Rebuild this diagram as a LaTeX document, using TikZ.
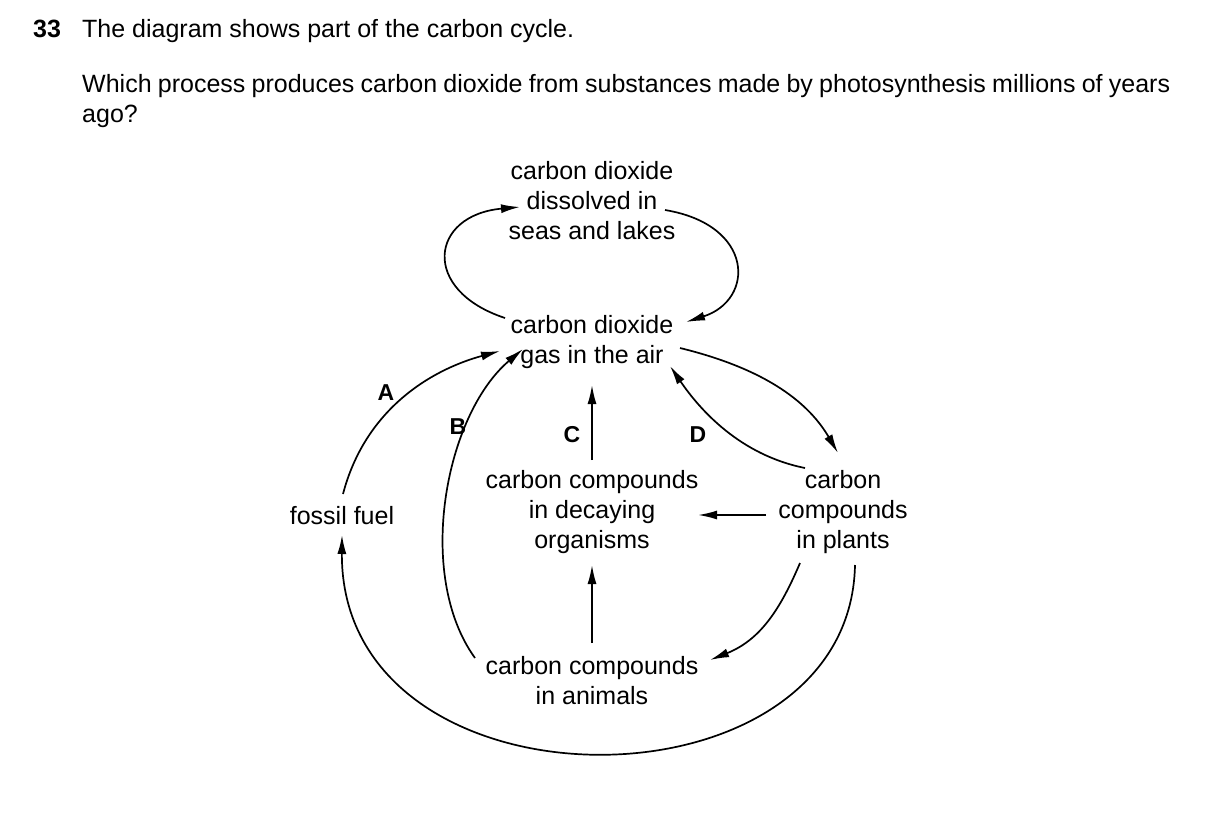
\documentclass[tikz,border=0pt]{standalone}
\usepackage{fontspec}
\setmainfont{Liberation Sans}
\usetikzlibrary{arrows.meta}
\begin{document}
\begin{tikzpicture}[x=1pt,y=-1pt,
  lbl/.style={align=center,font=\fontsize{25}{30}\selectfont,inner sep=0pt},
  ln/.style={line width=1.7pt,-{Latex[length=19pt,width=9pt]}}]
\useasboundingbox (0,0) rectangle (1209,827);
\node[lbl,anchor=base west] (q1) at (33,37) {\textbf{33}};
\node[lbl,anchor=base west] (q2) at (82,37) {The diagram shows part of the carbon cycle.};
\node[lbl,anchor=north west,align=justify,text width=1088pt] (q3) at (82,74) {Which process produces carbon dioxide from substances made by photosynthesis millions of years ago?};
\node[lbl] (sea) at (592,201) {carbon dioxide\\dissolved in\\seas and lakes};
\node[lbl] (air) at (592,342) {carbon dioxide\\gas in the air};
\node[lbl] (fos) at (342,516) {fossil fuel};
\node[lbl] (dec) at (592,512) {carbon compounds\\in decaying\\organisms};
\node[lbl] (pla) at (843,512) {carbon\\compounds\\in plants};
\node[lbl] (ani) at (592,681) {carbon compounds\\in animals};
\node[lbl,font=\fontsize{23}{30}\selectfont\bfseries] (A) at (386,393) {A};
\node[lbl,font=\fontsize{23}{30}\selectfont\bfseries] (B) at (458,427) {B};
\node[lbl,font=\fontsize{23}{30}\selectfont\bfseries] (C) at (572,435) {C};
\node[lbl,font=\fontsize{23}{30}\selectfont\bfseries] (D) at (698,435) {D};
\coordinate (s1) at (505,318); \coordinate (e1) at (520,207);
\coordinate (s2) at (665,210); \coordinate (e2) at (686,322);
\coordinate (s3) at (343,494); \coordinate (e3) at (500,351);
\coordinate (s4) at (855,565); \coordinate (e4) at (342,535);
\coordinate (s5) at (475,658); \coordinate (e5) at (523,349);
\coordinate (s6) at (592,460); \coordinate (e6) at (592,385);
\coordinate (s7) at (805,468); \coordinate (e7) at (670,366);
\coordinate (s8) at (680,348); \coordinate (e8) at (838,453);
\coordinate (s9) at (766,515); \coordinate (e9) at (698,515);
\coordinate (s10) at (800,563); \coordinate (e10) at (710,660);
\coordinate (s11) at (592,643); \coordinate (e11) at (592,565);
\draw[ln] (s1) .. controls (420,290) and (430,215) .. (e1);
\draw[ln] (s2) .. controls (755,225) and (755,300) .. (e2);
\draw[ln] (s3) .. controls (365,410) and (430,370) .. (e3);
\draw[ln] (s4) .. controls (850,820) and (340,820) .. (e4);
\draw[ln] (s5) .. controls (415,575) and (445,415) .. (e5);
\draw[ln] (s6) -- (e6);
\draw[ln] (s7) .. controls (740,455) and (700,410) .. (e7);
\draw[ln] (s8) .. controls (770,370) and (810,405) .. (e8);
\draw[ln] (s9) -- (e9);
\draw[ln] (s10) .. controls (780,610) and (760,640) .. (e10);
\draw[ln] (s11) -- (e11);
\end{tikzpicture}
\end{document}
